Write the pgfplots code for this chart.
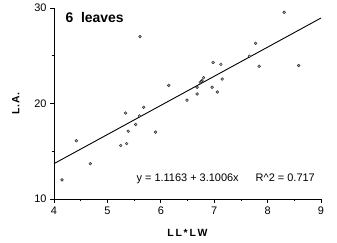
\documentclass[border=0pt]{standalone}
\usepackage{pgfplots}
\pgfplotsset{compat=1.18}
\usepackage{fontspec}
\setmainfont{Liberation Sans}
\begin{document}
\begin{tikzpicture}
\begin{axis}[
  scale only axis,
  width=267bp, height=191bp,
  xmin=4, xmax=9, ymin=10, ymax=30,
  axis lines=left,
  axis line style={-, line width=0.9pt},
  xtick={4,5,6,7,8,9},
  ytick={10,20,30},
  minor xtick={4.5,5.5,6.5,7.5,8.5},
  minor ytick={15,25},
  tick align=outside,
  major tick length=4bp,
  minor tick length=2bp,
  every tick/.style={black, line width=0.8pt},
  tick label style={font=\fontsize{11}{13}\selectfont},
  /pgf/number format/assume math mode=true,
  xlabel={L\,L\,*\,L\,W},
  ylabel={L.\,A.},
  label style={font=\fontsize{10.5}{12}\selectfont\bfseries},
  xlabel style={yshift=-8bp},
  ylabel style={yshift=8bp},
  clip=false,
]
\addplot[only marks, mark=*, mark size=1.4pt, mark options={fill=gray!60, draw=black!85, line width=0.45pt}] coordinates {
(4.15,12.0) (4.42,16.1) (4.68,13.7) (5.25,15.6) (5.36,15.8) (5.34,19.0)
(5.39,17.1) (5.53,17.8) (5.60,18.7) (5.68,19.6) (5.61,27.0) (5.90,17.0)
(6.15,21.9) (6.49,20.35) (6.68,21.0) (6.68,21.7) (6.74,22.2) (6.77,22.4)
(6.80,22.7) (6.76,22.3) (6.96,21.7) (6.98,24.3) (7.06,21.2) (7.125,24.1)
(7.15,22.56) (7.66,24.95) (7.775,26.3) (7.84,23.9) (8.31,29.55) (8.58,23.98)
};
\addplot[black, line width=0.9pt] coordinates {(4,13.7) (9,28.95)};
\node[anchor=west, font=\fontsize{14}{16}\selectfont\bfseries] at (axis cs:4.15,29.0) {6\ \ leaves};
\node[anchor=west, font=\fontsize{11}{12}\selectfont] at (axis cs:5.48,12.1) {y = 1.1163 + 3.1006x\quad\ \ R\^{}2 = 0.717};
\path (current axis.south west) ++(-54bp,-44bp) coordinate (bbA);
\path (current axis.north east) ++(16bp,8bp) coordinate (bbB);
\end{axis}
\useasboundingbox (bbA) rectangle (bbB);
\end{tikzpicture}
\end{document}
